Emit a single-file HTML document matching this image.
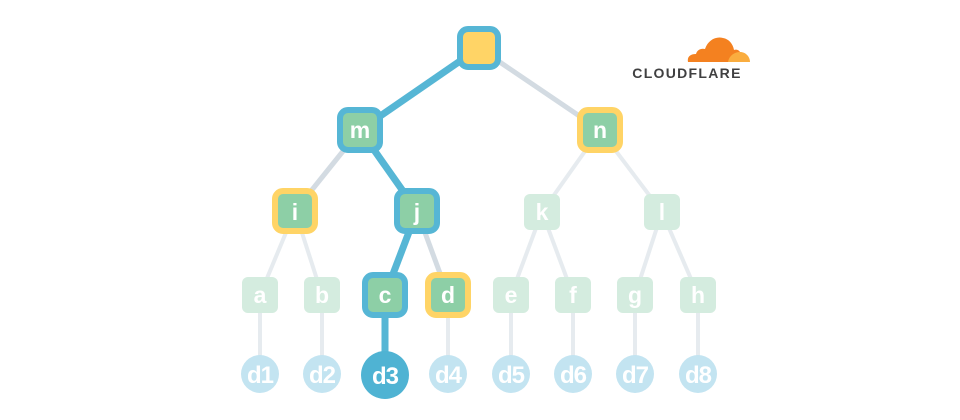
<!DOCTYPE html>
<html><head><meta charset="utf-8"><style>
html,body{margin:0;padding:0;background:#fff;}
svg{display:block;}
text{font-family:"Liberation Sans",sans-serif;font-weight:bold;fill:#fff;text-anchor:middle;}
</style></head><body>
<svg width="960" height="420" viewBox="0 0 960 420" xmlns="http://www.w3.org/2000/svg">
<g stroke="#e6ebef" stroke-width="4" fill="none">
<line x1="295" y1="211" x2="260" y2="295"/>
<line x1="295" y1="211" x2="322" y2="295"/>
<line x1="600" y1="130" x2="542" y2="212"/>
<line x1="600" y1="130" x2="662" y2="212"/>
<line x1="542" y1="212" x2="511" y2="295"/>
<line x1="542" y1="212" x2="573" y2="295"/>
<line x1="662" y1="212" x2="635" y2="295"/>
<line x1="662" y1="212" x2="698" y2="295"/>
<line x1="260" y1="295" x2="260" y2="373"/>
<line x1="322" y1="295" x2="322" y2="373"/>
<line x1="448" y1="295" x2="448" y2="373"/>
<line x1="511" y1="295" x2="511" y2="373"/>
<line x1="573" y1="295" x2="573" y2="373"/>
<line x1="635" y1="295" x2="635" y2="373"/>
<line x1="698" y1="295" x2="698" y2="373"/>
</g>
<g stroke="#d3dbe2" stroke-width="5" fill="none">
<line x1="479" y1="48" x2="600" y2="130"/>
<line x1="360" y1="130" x2="295" y2="211"/>
<line x1="417" y1="211" x2="448" y2="295"/>
</g>
<g stroke="#56b6d5" stroke-width="7" fill="none">
<line x1="479" y1="48" x2="360" y2="130"/>
<line x1="360" y1="130" x2="417" y2="211"/>
<line x1="417" y1="211" x2="385" y2="295"/>
<line x1="385" y1="295" x2="385" y2="373"/>
</g>
<g fill="#d4ecdf">
<rect x="242" y="277" width="36" height="36" rx="6"/>
<rect x="304" y="277" width="36" height="36" rx="6"/>
<rect x="493" y="277" width="36" height="36" rx="6"/>
<rect x="555" y="277" width="36" height="36" rx="6"/>
<rect x="617" y="277" width="36" height="36" rx="6"/>
<rect x="680" y="277" width="36" height="36" rx="6"/>
<rect x="524" y="194" width="36" height="36" rx="6"/>
<rect x="644" y="194" width="36" height="36" rx="6"/>
</g>
<g font-size="23">
<text x="260" y="303">a</text><text x="322" y="303">b</text>
<text x="511" y="303">e</text><text x="573" y="303">f</text>
<text x="635" y="303">g</text><text x="698" y="303">h</text>
<text x="542" y="220">k</text><text x="662" y="220">l</text>
</g>
<g stroke-width="6">
<rect x="460" y="29" width="38" height="38" rx="8" fill="#ffd466" stroke="#56b6d5"/>
<rect x="340" y="110" width="40" height="40" rx="8" fill="#8dcfa6" stroke="#56b6d5"/>
<rect x="580" y="110" width="40" height="40" rx="8" fill="#8dcfa6" stroke="#ffd466"/>
<rect x="275" y="191" width="40" height="40" rx="8" fill="#8dcfa6" stroke="#ffd466"/>
<rect x="397" y="191" width="40" height="40" rx="8" fill="#8dcfa6" stroke="#56b6d5"/>
<rect x="365" y="275" width="40" height="40" rx="8" fill="#8dcfa6" stroke="#56b6d5"/>
<rect x="428" y="275" width="40" height="40" rx="8" fill="#8dcfa6" stroke="#ffd466"/>
</g>
<g font-size="23">
<text x="360" y="138">m</text><text x="600" y="138">n</text>
<text x="295" y="220">i</text><text x="417" y="220">j</text>
<text x="385" y="303">c</text><text x="448" y="303">d</text>
</g>
<g fill="#c3e4f1">
<circle cx="260" cy="374" r="19"/><circle cx="322" cy="374" r="19"/>
<circle cx="448" cy="374" r="19"/><circle cx="511" cy="374" r="19"/>
<circle cx="573" cy="374" r="19"/><circle cx="635" cy="374" r="19"/>
<circle cx="698" cy="374" r="19"/>
</g>
<circle cx="385" cy="375" r="24" fill="#4fb3d3"/>
<g font-size="24" style="letter-spacing:-1px">
<text x="260" y="383">d1</text><text x="322" y="383">d2</text>
<text x="385" y="384">d3</text><text x="448" y="383">d4</text>
<text x="511" y="383">d5</text><text x="573" y="383">d6</text>
<text x="635" y="383">d7</text><text x="698" y="383">d8</text>
</g>
<path d="M688 62 C687 57 690 54 696 54 C697 50 701 48 705 49 C708 40 716 36 723 38 C729 39 733 44 734 50 C736 49 739 50 740 52 L736 62 Z" fill="#f48120"/>
<path d="M728 62 C729 56 734 52 740 52 C746 52 750 57 750 62 Z" fill="#faad3f"/>
<text x="687" y="78" font-size="14" style="fill:#404041;letter-spacing:1.3px">CLOUDFLARE</text>
</svg>
</body></html>
